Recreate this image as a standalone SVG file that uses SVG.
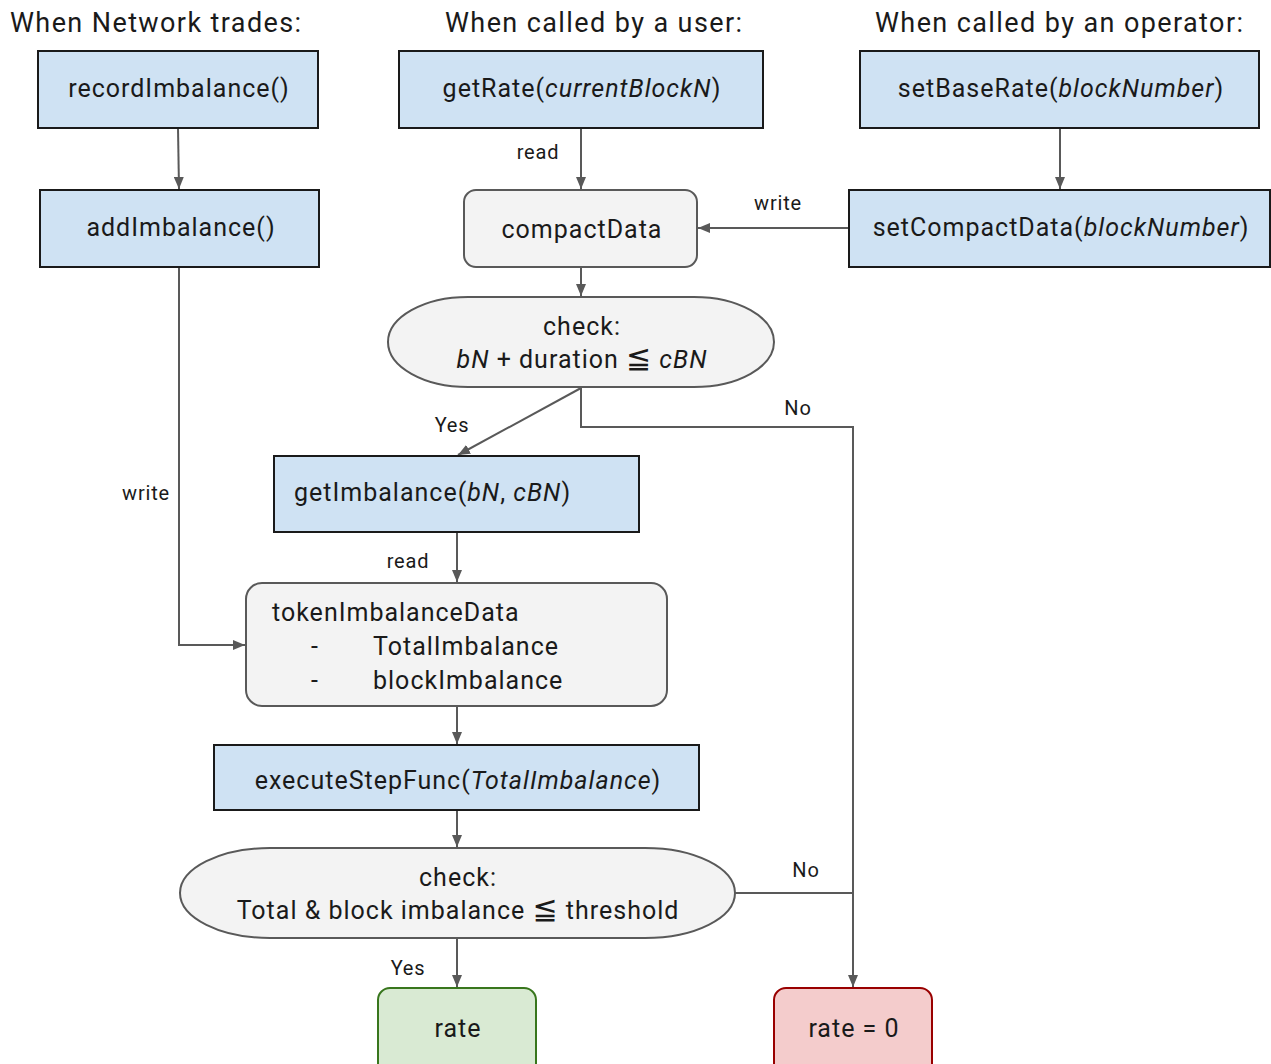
<svg xmlns="http://www.w3.org/2000/svg" width="1271" height="1064" viewBox="0 0 1271 1064">
  <defs>
    <marker id="arrow" viewBox="0 0 12 10" refX="12" refY="5" markerWidth="12" markerHeight="10" markerUnits="userSpaceOnUse" orient="auto">
      <path d="M0,0 L12,5 L0,10 z" fill="#595959"/>
    </marker>
    <style>
      text { font-family: Roboto, "Liberation Sans", "DejaVu Sans", sans-serif; fill: #1a1a1a; }
      .hdr { font-size: 27px; letter-spacing: 1.4px; }
      .lbl { font-size: 25px; letter-spacing: 1px; text-anchor: middle; }
      .lbl-l { font-size: 25px; letter-spacing: 1px; }
      .edge { font-size: 20px; letter-spacing: 0.8px; text-anchor: middle; }
      .fn { fill: #cfe2f3; stroke: #1a1a1a; stroke-width: 2; }
      .data { fill: #f3f3f3; stroke: #595959; stroke-width: 2; }
      .ok { fill: #d9ead3; stroke: #38761d; stroke-width: 2; }
      .bad { fill: #f4cccc; stroke: #990000; stroke-width: 2; }
      .conn { fill: none; stroke: #595959; stroke-width: 2; marker-end: url(#arrow); }
      .conn-plain { fill: none; stroke: #595959; stroke-width: 2; }
      .it { font-style: italic; }
      .rel { font-size: 30px; font-family: "DejaVu Sans", sans-serif; }
    </style>
  </defs>

  <rect width="1271" height="1064" fill="#ffffff"/>

  <!-- column headings -->
  <g id="headings">
    <text class="hdr" x="10" y="32">When Network trades:</text>
    <text class="hdr" x="445" y="32">When called by a user:</text>
    <text class="hdr" x="875" y="32">When called by an operator:</text>
  </g>

  <!-- connectors -->
  <g id="connectors">
    <line class="conn" x1="178" y1="128" x2="179" y2="189"/>
    <line class="conn" x1="581" y1="128" x2="581" y2="189"/>
    <line class="conn" x1="1060" y1="128" x2="1060" y2="189"/>
    <line class="conn" x1="849" y1="228" x2="698" y2="228"/>
    <line class="conn" x1="581" y1="267" x2="581" y2="296"/>
    <line class="conn" x1="581" y1="388" x2="458" y2="455"/>
    <path class="conn" d="M581,388 V427 H853 V987"/>
    <path class="conn" d="M179,267 V645 H245"/>
    <line class="conn" x1="457" y1="532" x2="457" y2="582"/>
    <line class="conn" x1="457" y1="706" x2="457" y2="744"/>
    <line class="conn" x1="457" y1="810" x2="457" y2="847"/>
    <line class="conn" x1="457" y1="938" x2="457" y2="987"/>
    <line class="conn-plain" x1="735" y1="893" x2="853" y2="893"/>

    <text class="edge" x="538" y="159">read</text>
    <text class="edge" x="778" y="210">write</text>
    <text class="edge" x="452" y="432">Yes</text>
    <text class="edge" x="798" y="415">No</text>
    <text class="edge" x="146" y="500">write</text>
    <text class="edge" x="408" y="568">read</text>
    <text class="edge" x="806" y="877">No</text>
    <text class="edge" x="408" y="975">Yes</text>
  </g>

  <!-- nodes -->
  <g id="recordImbalance">
    <rect class="fn" x="38" y="51" width="280" height="77"/>
    <text class="lbl" x="179" y="97">recordImbalance()</text>
  </g>
  <g id="getRate">
    <rect class="fn" x="399" y="51" width="364" height="77"/>
    <text class="lbl" x="582" y="97">getRate(<tspan class="it">currentBlockN</tspan>)</text>
  </g>
  <g id="setBaseRate">
    <rect class="fn" x="860" y="51" width="399" height="77"/>
    <text class="lbl" x="1061" y="97">setBaseRate(<tspan class="it">blockNumber</tspan>)</text>
  </g>
  <g id="addImbalance">
    <rect class="fn" x="40" y="190" width="279" height="77"/>
    <text class="lbl" x="181" y="236">addImbalance()</text>
  </g>
  <g id="compactData">
    <rect class="data" x="464" y="190" width="233" height="77" rx="12"/>
    <text class="lbl" x="582" y="238">compactData</text>
  </g>
  <g id="setCompactData">
    <rect class="fn" x="849" y="190" width="421" height="77"/>
    <text class="lbl" x="1061" y="236">setCompactData(<tspan class="it">blockNumber</tspan>)</text>
  </g>
  <g id="checkDuration">
    <rect class="data" x="388" y="297" width="386" height="90" rx="80" ry="45"/>
    <text class="lbl" x="582" y="335">check:</text>
    <text class="lbl" x="582" y="368"><tspan class="it">bN</tspan> + duration <tspan class="rel">≦</tspan> <tspan class="it">cBN</tspan></text>
  </g>
  <g id="getImbalance">
    <rect class="fn" x="274" y="456" width="365" height="76"/>
    <text class="lbl-l" x="294" y="501">getImbalance(<tspan class="it">bN</tspan>, <tspan class="it">cBN</tspan>)</text>
  </g>
  <g id="tokenImbalanceData">
    <rect class="data" x="246" y="583" width="421" height="123" rx="16"/>
    <text class="lbl-l" x="272" y="621">tokenImbalanceData</text>
    <text class="lbl-l" x="311" y="655">-</text>
    <text class="lbl-l" x="373" y="655">TotalImbalance</text>
    <text class="lbl-l" x="311" y="689">-</text>
    <text class="lbl-l" x="373" y="689">blockImbalance</text>
  </g>
  <g id="executeStepFunc">
    <rect class="fn" x="214" y="745" width="485" height="65"/>
    <text class="lbl" x="458" y="789">executeStepFunc(<tspan class="it">TotalImbalance</tspan>)</text>
  </g>
  <g id="checkThreshold">
    <rect class="data" x="180" y="848" width="555" height="90" rx="90" ry="45"/>
    <text class="lbl" x="458" y="886">check:</text>
    <text class="lbl" x="458" y="919">Total &amp; block imbalance <tspan class="rel">≦</tspan> threshold</text>
  </g>
  <g id="rate">
    <rect class="ok" x="378" y="988" width="158" height="90" rx="12"/>
    <text class="lbl" x="458" y="1037">rate</text>
  </g>
  <g id="rateZero">
    <rect class="bad" x="774" y="988" width="158" height="90" rx="12"/>
    <text class="lbl" x="854" y="1037">rate = 0</text>
  </g>
</svg>
